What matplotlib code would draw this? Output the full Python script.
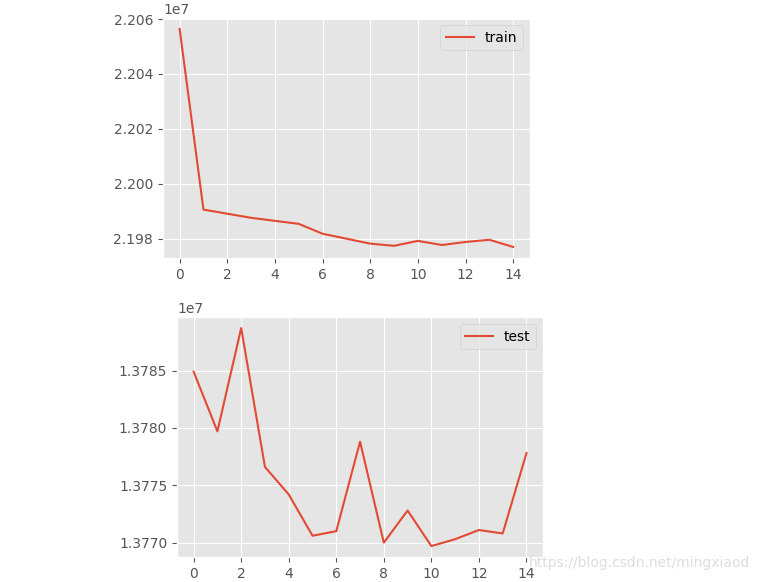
import matplotlib
matplotlib.use("Agg")
import matplotlib.pyplot as plt

plt.style.use("ggplot")

epochs = list(range(15))
train_loss = [22056400, 21990600, 21989100, 21987600, 21986500, 21985400, 21981800, 21980000,
              21978200, 21977400, 21979200, 21977700, 21978800, 21979600, 21977000]
test_loss = [13784900, 13779700, 13788700, 13776600, 13774200, 13770600, 13771000, 13778800,
             13770000, 13772800, 13769700, 13770300, 13771100, 13770800, 13777800]

fig = plt.figure(figsize=(7.58, 5.82), dpi=100)
fig.patch.set_facecolor("white")

ax1 = fig.add_axes([0.215, 0.557, 0.484, 0.412])
ax1.plot(epochs, train_loss, label="train")
ax1.legend(loc="upper right")
ax1.set_xticks(range(0, 15, 2))

ax2 = fig.add_axes([0.2335, 0.043, 0.483, 0.412])
ax2.plot(epochs, test_loss, label="test")
ax2.legend(loc="upper right")
ax2.set_xticks(range(0, 15, 2))

fig.text(0.99, 0.02, "https://blog.csdn.net/mingxiaod", ha="right", va="bottom",
         color="#dddddd", fontsize=10)

fig.savefig("out.png", dpi=100)
